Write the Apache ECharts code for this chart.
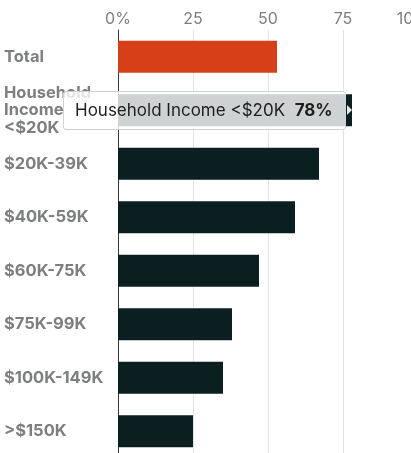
<!DOCTYPE html>
<html>
<head>
<meta charset="utf-8">
<script src="https://cdn.jsdelivr.net/npm/echarts@6/dist/echarts.min.js"></script>
<style>
html,body{margin:0;padding:0;background:#fff;}
#chart{width:411px;height:453px;}
</style>
</head>
<body>
<div id="chart"></div>
<script>
const categories = ['Total', 'Household Income <$20K', '$20K-39K', '$40K-59K', '$60K-75K', '$75K-99K', '$100K-149K', '>$150K'];
const values = [53, 78, 67, 59, 47, 38, 35, 25];
const tickValues = [0, 25, 50, 75, 100];
const highlightIndex = 1;

const FONT = 'Inter, "Liberation Sans", sans-serif';
const chart = echarts.init(document.getElementById('chart'));
chart.setOption({
  animation: false,
  grid: { left: 118, top: 30, width: 300, height: 428, outerBoundsMode: 'none', containLabel: false },
  xAxis: {
    type: 'value', position: 'top', min: tickValues[0], max: tickValues[tickValues.length - 1], interval: 25,
    axisLine: { show: false }, axisTick: { show: false },
    splitLine: { lineStyle: { color: '#e4e4e4', width: 1 } },
    axisLabel: { color: '#7b7f80', fontSize: 16, fontFamily: FONT, margin: 3,
      formatter: v => (v === tickValues[0] || v === tickValues[tickValues.length - 1]) ? v + '%' : String(v) }
  },
  yAxis: {
    type: 'category', inverse: true, data: categories,
    axisLine: { show: true, lineStyle: { color: '#3a3a3a', width: 1 } },
    axisTick: { show: false },
    axisLabel: { color: '#7b7f80', fontSize: 16.5, fontWeight: 'bold', fontFamily: FONT,
      align: 'left', margin: 114, lineHeight: 17.5,
      formatter: v => v.split(' ').join('\n') }
  },
  tooltip: {
    trigger: 'item', triggerOn: 'none', alwaysShowContent: true, transitionDuration: 0,
    backgroundColor: 'rgba(255,255,255,0.8)', borderColor: '#cfd2d2', borderWidth: 1,
    padding: [8, 12, 8, 11], extraCssText: 'box-shadow:none;border-radius:3px;',
    textStyle: { color: '#1e1e1e', fontSize: 17, fontFamily: FONT },
    position: function (point, params, dom, rect, size) {
      return [rect.x + rect.width - size.contentSize[0] - 6, rect.y + rect.height / 2 - size.contentSize[1] / 2];
    },
    formatter: function (p) {
      return '<div style="position:relative;white-space:nowrap;line-height:21px;">' + p.name.replace('<', '&lt;') +
        '&nbsp;&nbsp;<b>' + p.value + '%</b>' +
        '<div style="position:absolute;right:-19px;top:5px;width:0;height:0;border-top:5px solid transparent;border-bottom:5px solid transparent;border-left:5px solid rgba(255,255,255,0.9);"></div></div>';
    }
  },
  series: [{
    type: 'bar', data: values, barWidth: 32,
    itemStyle: { color: p => p.dataIndex === 0 ? '#d63f17' : '#0b1f21' },
    emphasis: { disabled: true }
  }]
});
chart.dispatchAction({ type: 'showTip', seriesIndex: 0, dataIndex: highlightIndex });
</script>
</body>
</html>
